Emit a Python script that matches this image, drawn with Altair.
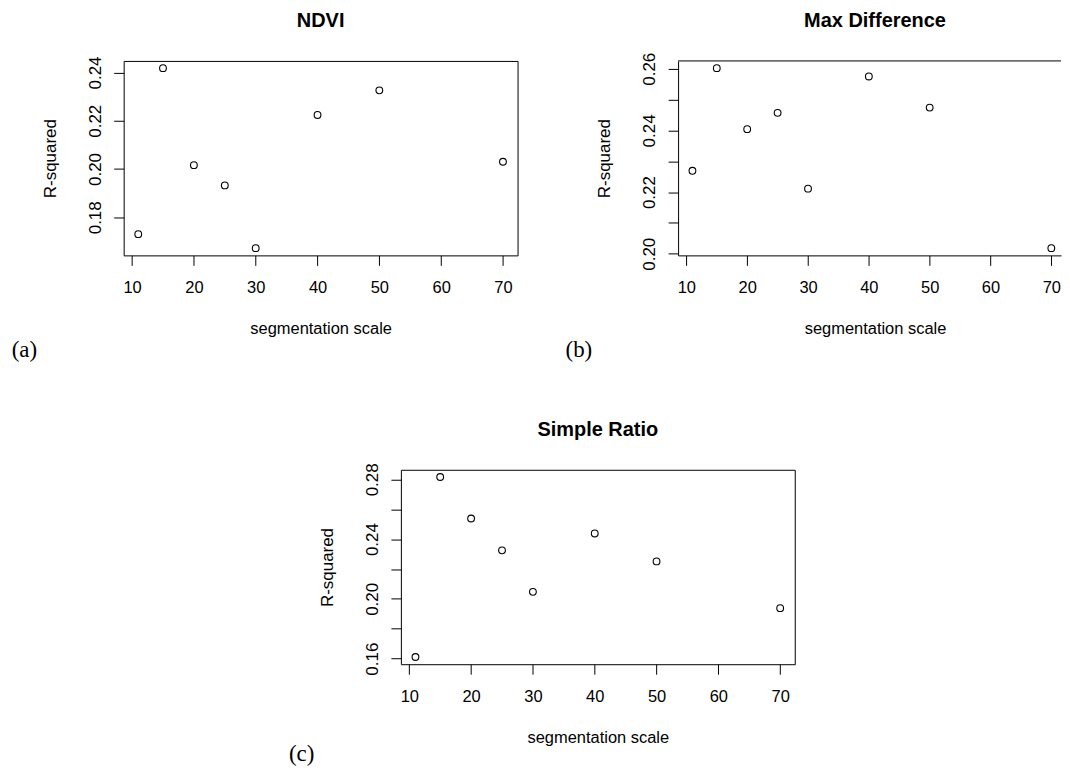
import altair as alt
import pandas as pd

# ---- data ----
scale = [11, 15, 20, 25, 30, 40, 50, 70]
ndvi = [0.1730, 0.2418, 0.2016, 0.1932, 0.1672, 0.2224, 0.2326, 0.2030]
max_difference = [0.2269, 0.2602, 0.2404, 0.2457, 0.2211, 0.2575, 0.2474, 0.2018]
simple_ratio = [0.1611, 0.2816, 0.2538, 0.2325, 0.2047, 0.2438, 0.2251, 0.1938]

titles = ["NDVI", "Max Difference", "Simple Ratio"]
tags = ["(a)", "(b)", "(c)"]
x_ticks = [10, 20, 30, 40, 50, 60, 70]
y_ticks_a = [0.18, 0.20, 0.22, 0.24]
y_ticks_b = [0.20, 0.21, 0.22, 0.23, 0.24, 0.25, 0.26]
y_ticks_c = [0.16, 0.18, 0.20, 0.22, 0.24, 0.26, 0.28]

W, H = 395, 195
W_B = 384          # panel (b) runs off the right edge of the page
SANS = "Liberation Sans"
SERIF = "Liberation Serif"


def r_range(vals):
    lo, hi = min(vals), max(vals)
    pad = (hi - lo) * 0.04
    return [lo - pad, hi + pad]


x_dom = r_range(scale)
x_dom_b = [x_dom[0], x_dom[0] + W_B / 6.1]


def panel(values, title, tag, y_ticks, label_expr, frame, tag_y=296.5,
          w=W, xdom=x_dom, open_right=False):
    df = pd.DataFrame({"scale": scale, "r2": values})
    x = alt.X(
        "scale:Q",
        scale=alt.Scale(domain=xdom, nice=False, zero=False),
        axis=alt.Axis(
            values=x_ticks, title="segmentation scale", grid=False,
            domain=open_right, domainColor="black", domainWidth=1,
            tickSize=10, tickColor="black", tickWidth=1,
            labelFont=SANS, labelFontSize=16.5, labelColor="black",
            labelBaseline="alphabetic", labelPadding=27.7,
            labelFlush=False, labelOverlap=False, format="d",
            titleFont=SANS, titleFontSize=16.5, titleFontWeight="normal",
            titleColor="black", titleX=W / 2, titleY=78.5,
            titleAlign="center", titleBaseline="alphabetic",
        ),
    )
    y = alt.Y(
        "r2:Q",
        scale=alt.Scale(domain=r_range(values), nice=False, zero=False),
        axis=alt.Axis(
            values=y_ticks, title="R-squared", grid=False,
            domain=open_right, domainColor="black", domainWidth=1,
            tickSize=10, tickColor="black", tickWidth=1,
            labelExpr=label_expr, labelAngle=270, labelAlign="center",
            labelBaseline="alphabetic", labelPadding=13.5,
            labelFont=SANS, labelFontSize=17, labelColor="black",
            labelFlush=False, labelOverlap=False,
            titleFont=SANS, titleFontSize=17, titleFontWeight="normal",
            titleColor="black", titleAngle=270, titleX=-68.5, titleY=H / 2,
            titleAlign="center", titleBaseline="alphabetic",
        ),
    )
    pts = alt.Chart(df).mark_point(
        shape="circle", filled=False, size=46, color="black",
        strokeWidth=1.1, opacity=1,
    ).encode(x=x, y=y)
    one = pd.DataFrame({"title": [title], "tag": [tag]})
    title_layer = alt.Chart(one).mark_text(
        font=SANS, fontSize=20, fontWeight="bold", align="center",
        baseline="alphabetic", color="black",
    ).encode(x=alt.value(W / 2), y=alt.value(-34), text="title:N")
    tag_layer = alt.Chart(one).mark_text(
        font=SERIF, fontSize=23, align="center", baseline="alphabetic",
        color="black",
    ).encode(x=alt.value(-99.5), y=alt.value(tag_y), text="tag:N")
    # transparent frame that fixes the panel's extent in the layout
    left, right, top, bottom = frame
    frame_layer = alt.Chart(one).mark_rect(
        fillOpacity=0, strokeOpacity=0, fill="white"
    ).encode(
        x=alt.value(left), x2=alt.value(right),
        y=alt.value(top), y2=alt.value(bottom),
    )
    layers = [frame_layer, pts, title_layer, tag_layer]
    props = dict(width=w, height=H)
    if open_right:
        top_line = alt.Chart(one).mark_rule(color="black", strokeWidth=1).encode(
            y=alt.value(0)
        )
        layers.append(top_line)
        props["view"] = alt.ViewBackground(strokeOpacity=0)
    return alt.layer(*layers).properties(**props)


fmt = "format(datum.value, '.2f')"
pa = panel(ndvi, titles[0], tags[0], y_ticks_a, fmt,
           (-115, W + 45, -51, H + 108))
pb = panel(max_difference, titles[1], tags[1], y_ticks_b,
           "round(datum.value * 100) % 2 == 0 ? " + fmt + " : ''",
           (-115, W_B, -51, H + 108), w=W_B, xdom=x_dom_b, open_right=True)
pc = panel(simple_ratio, titles[2], tags[2], y_ticks_c,
           "round(datum.value * 100) % 4 == 0 ? " + fmt + " : ''",
           (-115, W, -104.7, H + 85), tag_y=292)

spacer = alt.Chart(pd.DataFrame({"v": [0]})).mark_point(opacity=0).encode(
    x=alt.value(0), y=alt.value(0)
).properties(width=162, height=10, view=alt.ViewBackground(strokeOpacity=0))

top_row = alt.hconcat(pa, pb, spacing=0)
bottom_row = alt.hconcat(spacer, pc, spacing=0)
chart = alt.vconcat(top_row, bottom_row, spacing=0).properties(
    padding=0, background="white",
).configure_view(stroke="black", strokeWidth=1)

chart.save("out.html", embed_options={"renderer": "svg", "actions": False})
